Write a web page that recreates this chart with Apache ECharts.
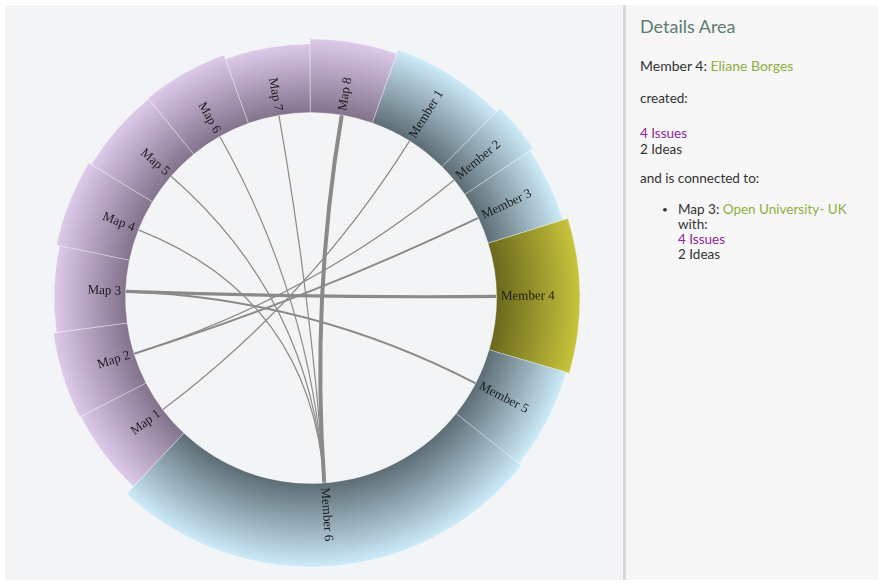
<!DOCTYPE html>
<html>
<head>
<meta charset="utf-8">
<title>Members and maps</title>
<script src="https://cdn.jsdelivr.net/npm/echarts@6/dist/echarts.min.js"></script>
<style>
  html, body { margin: 0; padding: 0; width: 878px; height: 583px; overflow: hidden; background: #fff; }
  #left { position: absolute; left: 5px; top: 5px; width: 618px; height: 575px; background: #f3f4f6; }
  #divider { position: absolute; left: 623px; top: 5px; width: 3px; height: 575px; background: #d9d9db; }
  #right { position: absolute; left: 626px; top: 5px; width: 252px; height: 575px; background: #f7f7f8; }
  #chart { position: absolute; left: 0; top: 0; width: 623px; height: 583px; }
  .ln { position: absolute; left: 640px; white-space: nowrap; line-height: 1; font-family: Lato, "Open Sans", sans-serif; font-size: 13.5px; color: #333; }
  .head { font-size: 18px; color: #5d7c6c; }
  .green { color: #8caf3c; }
  .purple { color: #8c2896; }
</style>
</head>
<body>
<div id="left"></div>
<div id="divider"></div>
<div id="right"></div>
<div id="chart"></div>
<div id="details"></div>
<script>
  // ring groups, clockwise starting at Member 1
  var segmentNames = ['Member 1', 'Member 2', 'Member 3', 'Member 4', 'Member 5', 'Member 6',
    'Map 1', 'Map 2', 'Map 3', 'Map 4', 'Map 5', 'Map 6', 'Map 7', 'Map 8'];
  var segmentValues = [4.6, 2, 3, 6, 4, 17, 3.5, 3.5, 3.5, 3.5, 3.5, 3.5, 3.5, 3.5];

  // chords
  var linkSource = ['Map 1', 'Map 2', 'Map 2', 'Map 3', 'Map 3', 'Map 4', 'Map 5', 'Map 6', 'Map 7', 'Map 8'];
  var linkTarget = ['Member 1', 'Member 2', 'Member 3', 'Member 4', 'Member 5', 'Member 6', 'Member 6', 'Member 6', 'Member 6', 'Member 6'];
  var linkValue = [1, 1, 3, 6, 3, 1, 1, 1, 1, 8];

  // details of the selected member
  var selectedName = 'Member 4';
  var selectedPerson = 'Eliane Borges';
  var createdIssues = 4;
  var createdIdeas = 2;
  var connMap = 'Map 3';
  var connMapTitle = 'Open University- UK';
  var connIssues = 4;
  var connIdeas = 2;

  var total = 0, starts = [], mids = [];
  for (var i = 0; i < segmentValues.length; i++) {
    starts.push(total);
    mids.push(total + segmentValues[i] / 2);
    total += segmentValues[i];
  }

  var innerR = 185.5;
  // outer edge of each block is a little uneven in the original
  var outerR = {
    'Member 1': 263, 'Member 2': 268, 'Member 3': 264, 'Member 4': 269, 'Member 5': 266, 'Member 6': 269,
    'Map 1': 259, 'Map 2': 260, 'Map 3': 257, 'Map 4': 260, 'Map 5': 257, 'Map 6': 258, 'Map 7': 254, 'Map 8': 259
  };

  function palette(name) {
    if (name === selectedName) return ['#6a681c', '#c7c43c'];
    if (name.indexOf('Map') === 0) return ['#84738d', '#ddcaea'];
    return ['#5d6d76', '#cdebf9'];
  }

  function angleOf(api, cs, v) {
    var p = api.coord([100, v]);
    return Math.atan2(p[1] - cs.cy, p[0] - cs.cx);
  }

  function ringItem(params, api) {
    var cs = params.coordSys;
    var idx = api.value(2);
    var name = segmentNames[idx];
    var a0 = angleOf(api, cs, api.value(0));
    var a1 = angleOf(api, cs, api.value(1));
    if (a1 < a0) a1 += Math.PI * 2;
    var r = outerR[name];
    var col = palette(name);

    var am = angleOf(api, cs, mids[idx]);
    var lp = api.coord([innerR + 4.5, mids[idx]]);
    var rightSide = Math.cos(am) > 0;

    return {
      type: 'group',
      children: [{
        type: 'sector',
        shape: { cx: cs.cx, cy: cs.cy, r0: innerR, r: r, startAngle: a0, endAngle: a1, clockwise: true },
        style: {
          fill: {
            type: 'radial', x: cs.cx, y: cs.cy, r: r, global: true,
            colorStops: [{ offset: innerR / r, color: col[0] }, { offset: 1, color: col[1] }]
          },
          stroke: 'rgba(255,255,255,0.4)',
          lineWidth: 0.8
        }
      }, {
        type: 'text',
        x: lp[0],
        y: lp[1],
        rotation: rightSide ? -am : -(am + Math.PI),
        style: {
          text: name,
          x: 0,
          y: 0,
          fill: '#1c1c1c',
          font: '13px "Liberation Serif", "DejaVu Serif", serif',
          align: rightSide ? 'left' : 'right',
          verticalAlign: 'middle'
        }
      }]
    };
  }

  function chordItem(params, api) {
    var a = mids[api.value(0)], b = mids[api.value(1)];
    var p0 = api.coord([innerR, a]);
    var p1 = api.coord([innerR, b]);
    var c = api.coord([0, 0]);
    return {
      type: 'bezierCurve',
      shape: { x1: p0[0], y1: p0[1], x2: p1[0], y2: p1[1], cpx1: c[0], cpy1: c[1] },
      style: { stroke: '#8a8a8a', fill: 'none', lineWidth: 0.8 + 0.4 * api.value(2) }
    };
  }

  var ringData = segmentNames.map(function (n, k) {
    return [starts[k], starts[k] + segmentValues[k], k];
  });
  var linkData = linkSource.map(function (s, k) {
    return [segmentNames.indexOf(s), segmentNames.indexOf(linkTarget[k]), linkValue[k]];
  });

  var chart = echarts.init(document.getElementById('chart'), null, { renderer: 'canvas' });
  chart.setOption({
    animation: false,
    polar: { center: [311, 298], radius: [0, 272] },
    angleAxis: { type: 'value', min: 0, max: total, startAngle: 90 - 19.3, clockwise: true, show: false },
    radiusAxis: { type: 'value', min: 0, max: 272, show: false },
    series: [{
      type: 'custom',
      coordinateSystem: 'polar',
      clip: false,
      silent: true,
      renderItem: chordItem,
      data: linkData,
      z: 2
    }, {
      type: 'custom',
      coordinateSystem: 'polar',
      clip: false,
      silent: true,
      renderItem: ringItem,
      data: ringData,
      z: 3
    }]
  });

  // details panel
  var lines = [
    { top: 17, cls: 'ln head', html: 'Details Area' },
    { top: 59, cls: 'ln', html: selectedName + ': <span class="green">' + selectedPerson + '</span>', size: 14 },
    { top: 92, cls: 'ln', html: 'created:' },
    { top: 126.5, cls: 'ln purple', html: createdIssues + ' Issues' },
    { top: 143, cls: 'ln', html: createdIdeas + ' Ideas' },
    { top: 172, cls: 'ln', html: 'and is connected to:' },
    { top: 203, cls: 'ln', html: connMap + ': <span class="green">' + connMapTitle + '</span>', left: 678 },
    { top: 218, cls: 'ln', html: 'with:', left: 678 },
    { top: 233, cls: 'ln purple', html: connIssues + ' Issues', left: 678 },
    { top: 247.5, cls: 'ln', html: connIdeas + ' Ideas', left: 678 },
    { top: 204, cls: 'ln', html: '&bull;', left: 662, size: 10 }
  ];
  var box = document.getElementById('details');
  lines.forEach(function (l) {
    var d = document.createElement('div');
    d.className = l.cls;
    d.style.top = l.top + 'px';
    if (l.left) d.style.left = l.left + 'px';
    if (l.size) d.style.fontSize = l.size + 'px';
    d.innerHTML = l.html;
    box.appendChild(d);
  });
</script>
</body>
</html>
